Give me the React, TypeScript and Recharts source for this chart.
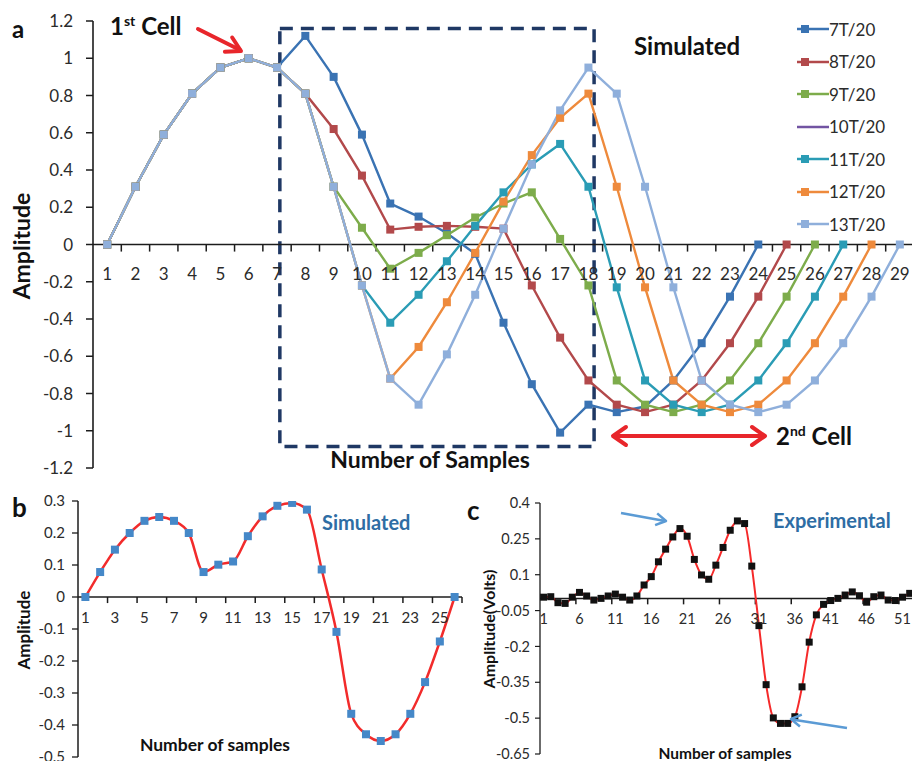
import React from 'react';
import {
  LineChart,
  Line,
  XAxis,
  YAxis,
  ReferenceLine,
  ReferenceDot,
  ReferenceArea,
  Legend
} from 'recharts';

// ---------- panel a: simulated pulses for different transit times ----------
const samplesA = Array.from({ length: 29 }, (_, i) => i + 1);

const t7 = [0, 0.31, 0.59, 0.81, 0.95, 1, 0.95, 1.12, 0.9, 0.59, 0.22, 0.15, 0.06, -0.05, -0.42, -0.75, -1.01, -0.86, -0.9, -0.87, -0.73, -0.53, -0.28, 0, null, null, null, null, null];
const t8 = [0, 0.31, 0.59, 0.81, 0.95, 1, 0.95, 0.81, 0.62, 0.37, 0.08, 0.095, 0.1, 0.095, 0.085, -0.22, -0.5, -0.73, -0.86, -0.9, -0.86, -0.73, -0.53, -0.28, 0, null, null, null, null];
const t9 = [0, 0.31, 0.59, 0.81, 0.95, 1, 0.95, 0.81, 0.31, 0.09, -0.13, -0.045, 0.05, 0.145, 0.22, 0.28, 0.03, -0.22, -0.73, -0.86, -0.9, -0.86, -0.73, -0.53, -0.28, 0, null, null, null];
const t10: (number | null)[] = []; // listed in the legend only
const t11 = [0, 0.31, 0.59, 0.81, 0.95, 1, 0.95, 0.81, 0.31, -0.22, -0.42, -0.27, -0.09, 0.1, 0.28, 0.43, 0.54, 0.31, -0.23, -0.73, -0.86, -0.9, -0.86, -0.73, -0.53, -0.28, 0, null, null];
const t12 = [0, 0.31, 0.59, 0.81, 0.95, 1, 0.95, 0.81, 0.31, -0.22, -0.72, -0.55, -0.31, -0.045, 0.23, 0.48, 0.68, 0.81, 0.31, -0.23, -0.73, -0.86, -0.9, -0.86, -0.73, -0.53, -0.28, 0, null];
const t13 = [0, 0.31, 0.59, 0.81, 0.95, 1, 0.95, 0.81, 0.31, -0.22, -0.72, -0.86, -0.59, -0.27, 0.085, 0.43, 0.72, 0.95, 0.81, 0.31, -0.23, -0.73, -0.86, -0.9, -0.86, -0.73, -0.53, -0.28, 0];

const xLabelsA = samplesA;
const yTicksA = [-1.2, -1, -0.8, -0.6, -0.4, -0.2, 0, 0.2, 0.4, 0.6, 0.8, 1, 1.2];

// ---------- panel b: simulated two-cell signal ----------
const samplesB = Array.from({ length: 26 }, (_, i) => i + 1);
const simB = [0, 0.078, 0.148, 0.2, 0.238, 0.25, 0.238, 0.2, 0.078, 0.101, 0.111, 0.19, 0.252, 0.285, 0.294, 0.273, 0.086, -0.109, -0.365, -0.429, -0.45, -0.429, -0.365, -0.266, -0.139, 0];
const xLabelsB = [1, 3, 5, 7, 9, 11, 13, 15, 17, 19, 21, 23, 25];
const yTicksB = [-0.5, -0.4, -0.3, -0.2, -0.1, 0, 0.1, 0.2, 0.3];

// ---------- panel c: measured signal ----------
const samplesC = Array.from({ length: 52 }, (_, i) => i + 1);
const expC = [
  0.006, 0.008, -0.017, -0.02, 0.006, 0.026, 0.011, -0.006, 0.001, 0.011, 0.019, 0.006, -0.006, 0.011,
  0.057, 0.092, 0.154, 0.207, 0.258, 0.293, 0.261, 0.164, 0.099, 0.081, 0.14, 0.214, 0.286, 0.325, 0.314, 0.136,
  -0.113, -0.36, -0.499, -0.522, -0.522,
  -0.494, -0.369, -0.182, -0.068, -0.024, -0.008, 0.001, 0.015, 0.028, 0.012, -0.015, 0.008, 0.015, -0.006, -0.008, 0.006, 0.022
];
const xLabelsC = [1, 6, 11, 16, 21, 26, 31, 36, 41, 46, 51];
const yTicksC = [-0.65, -0.5, -0.35, -0.2, -0.05, 0.1, 0.25, 0.4];

const seriesA = [
  { key: 't7', name: '7T/20', color: '#3A73B3', values: t7, marker: true },
  { key: 't8', name: '8T/20', color: '#B2494B', values: t8, marker: true },
  { key: 't9', name: '9T/20', color: '#7DAC4B', values: t9, marker: true },
  { key: 't10', name: '10T/20', color: '#7254A2', values: t10, marker: false },
  { key: 't11', name: '11T/20', color: '#2A9CB5', values: t11, marker: true },
  { key: 't12', name: '12T/20', color: '#EE8A3C', values: t12, marker: true },
  { key: 't13', name: '13T/20', color: '#8FAFDB', values: t13, marker: true }
];

const rowsA = samplesA.map((s, i) => {
  const row: Record<string, number | null> = { sample: s };
  seriesA.forEach((ser) => {
    row[ser.key] = ser.values[i] ?? null;
  });
  return row;
});
const rowsB = samplesB.map((s, i) => ({ sample: s, amp: simB[i] }));
const rowsC = samplesC.map((s, i) => ({ sample: s, amp: expC[i] }));

const AXIS = '#1c1c1c';
const TEXT = '#2b2b2b';
const fmt = (v: number) => String(Number(v.toFixed(2)));

const squareDot = (color: string, size: number) => (props: any) => {
  const { cx, cy, index } = props;
  if (cx == null || cy == null) return <g key={`e-${index}`} />;
  return (
    <rect key={`d-${index}`} x={cx - size / 2} y={cy - size / 2} width={size} height={size} fill={color} />
  );
};

// category axis drawn along y = 0, with ticks between categories
const zeroAxis = (
  labels: number[],
  bounds: number[],
  tickLen: number,
  labelOffset: number,
  fontSize: number,
  prefix: string
) => [
  <ReferenceLine key={`${prefix}-zero`} y={0} stroke={AXIS} strokeWidth={1.5} />,
  ...bounds.map((b) => (
    <ReferenceLine
      key={`${prefix}-tk-${b}`}
      segment={[{ x: b, y: 0 }, { x: b, y: -tickLen }]}
      stroke={AXIS}
      strokeWidth={1.5}
    />
  )),
  ...labels.map((k) => (
    <ReferenceDot
      key={`${prefix}-lb-${k}`}
      x={k}
      y={0}
      r={0}
      fill="none"
      stroke="none"
      label={{ value: String(k), position: 'bottom', offset: labelOffset, fontSize, fill: TEXT }}
    />
  ))
];

const renderLegendA = (props: any) => {
  const order = seriesA.map((s) => s.key);
  const entries = [...(props.payload || [])].sort(
    (a: any, b: any) => order.indexOf(a.dataKey) - order.indexOf(b.dataKey)
  );
  return (
    <div>
      {entries.map((e: any) => {
        const s = seriesA.find((x) => x.key === e.dataKey)!;
        return (
          <div key={s.key} style={{ height: 32.5, display: 'flex', alignItems: 'center' }}>
            <svg width={32} height={12}>
              <line x1={0} y1={6} x2={32} y2={6} stroke={s.color} strokeWidth={2.5} />
              {s.marker && <rect x={4} y={2} width={8} height={8} fill={s.color} />}
            </svg>
            <span style={{ fontSize: 17, color: TEXT, lineHeight: '17px' }}>{s.name}</span>
          </div>
        );
      })}
    </div>
  );
};

const chevron = (x1: number, y1: number, x2: number, y2: number, len: number, half: number) => {
  const d = Math.hypot(x2 - x1, y2 - y1);
  const ux = (x2 - x1) / d;
  const uy = (y2 - y1) / d;
  const bx = x2 - ux * len;
  const by = y2 - uy * len;
  return `M${bx - uy * half},${by + ux * half} L${x2},${y2} L${bx + uy * half},${by - ux * half}`;
};

const Annotations = () => (
  <svg
    width={912}
    height={761}
    style={{ position: 'absolute', left: 0, top: 0, pointerEvents: 'none', fontFamily: 'Lato, sans-serif' }}
  >
    {/* panel a */}
    <text x={12} y={38} fontSize={24} fontWeight={700} fill="#111">a</text>
    <text x={110} y={35} fontSize={24} fontWeight={700} fill="#111">
      1<tspan dy={-9} fontSize={14}>st</tspan>
      <tspan dy={9} fontSize={24}> Cell</tspan>
    </text>
    <line x1={198} y1={29} x2={240} y2={50} stroke="#E8262B" strokeWidth={4} strokeLinecap="round" />
    <path d={chevron(198, 29, 241, 51, 14, 8)} fill="none" stroke="#E8262B" strokeWidth={4} strokeLinecap="round" strokeLinejoin="round" />
    <text x={634} y={55} fontSize={24} fontWeight={700} fill="#111">Simulated</text>
    <text x={430} y={468} fontSize={23} fontWeight={700} fill="#111" textAnchor="middle">Number of Samples</text>
    <text transform="translate(30,246) rotate(-90)" fontSize={23} fontWeight={700} fill="#111" textAnchor="middle">Amplitude</text>
    <line x1={616} y1={436} x2={762} y2={436} stroke="#E8262B" strokeWidth={4} />
    <path d={chevron(700, 436, 765, 436, 13, 9)} fill="none" stroke="#E8262B" strokeWidth={4} strokeLinecap="round" strokeLinejoin="round" />
    <path d={chevron(700, 436, 613, 436, 13, 9)} fill="none" stroke="#E8262B" strokeWidth={4} strokeLinecap="round" strokeLinejoin="round" />
    <text x={776} y={445} fontSize={24} fontWeight={700} fill="#111">
      2<tspan dy={-9} fontSize={14}>nd</tspan>
      <tspan dy={9} fontSize={24}> Cell</tspan>
    </text>

    {/* panel b */}
    <text x={12} y={517} fontSize={26} fontWeight={700} fill="#111">b</text>
    <text x={322} y={530} fontSize={20} fontWeight={700} fill="#2E6DA4">Simulated</text>
    <text x={215} y={751} fontSize={17.5} fontWeight={700} fill="#111" textAnchor="middle">Number of samples</text>
    <text transform="translate(30,630) rotate(-90)" fontSize={17} fontWeight={700} fill="#111" textAnchor="middle">Amplitude</text>

    {/* panel c */}
    <text x={467} y={520} fontSize={26} fontWeight={700} fill="#111">c</text>
    <text x={773} y={528} fontSize={20} fontWeight={700} fill="#2E6DA4">Experimental</text>
    <text x={725} y={759} fontSize={15.5} fontWeight={700} fill="#111" textAnchor="middle">Number of samples</text>
    <text transform="translate(495,629) rotate(-90)" fontSize={16} fontWeight={700} fill="#111" textAnchor="middle">Amplitude(Volts)</text>
    <line x1={621} y1={513} x2={665} y2={521} stroke="#5B9BD5" strokeWidth={2.5} />
    <path d={chevron(621, 513, 666, 521, 10, 6)} fill="none" stroke="#5B9BD5" strokeWidth={2.5} strokeLinejoin="round" />
    <line x1={847} y1={728} x2={792} y2={719.5} stroke="#5B9BD5" strokeWidth={2.5} />
    <path d={chevron(847, 728, 791, 719, 10, 6)} fill="none" stroke="#5B9BD5" strokeWidth={2.5} strokeLinejoin="round" />
  </svg>
);

export default function App() {
  return (
    <div
      style={{
        position: 'absolute',
        left: 0,
        top: 0,
        width: 912,
        height: 761,
        overflow: 'hidden',
        background: '#fff',
        fontFamily: 'Lato, sans-serif'
      }}
    >
      {/* a */}
      <div style={{ position: 'absolute', left: 0, top: 0 }}>
        <LineChart width={920} height={480} data={rowsA} margin={{ top: 21, right: 6, left: 0, bottom: 12 }}>
          <XAxis type="number" dataKey="sample" domain={[0.5, 29.5]} hide />
          <YAxis
            type="number"
            domain={[-1.2, 1.2]}
            ticks={yTicksA}
            interval={0}
            allowDataOverflow
            width={93}
            tickFormatter={fmt}
            tick={{ fontSize: 17, fill: TEXT }}
            tickSize={7}
            tickMargin={13}
            axisLine={{ stroke: AXIS, strokeWidth: 1.6 }}
            tickLine={{ stroke: AXIS, strokeWidth: 1.5 }}
          />
          {zeroAxis(xLabelsA, xLabelsA.map((k) => k + 0.5), 0.038, 23, 17, 'a')}
          <ReferenceArea
            x1={7.1}
            x2={18.2}
            y1={-1.085}
            y2={1.16}
            fill="none"
            fillOpacity={0}
            stroke="#1F3864"
            strokeWidth={3.5}
            strokeDasharray="13 8"
          />
          {seriesA.map((s) => (
            <Line
              key={s.key}
              type="linear"
              dataKey={s.key}
              name={s.name}
              stroke={s.color}
              strokeWidth={2.4}
              dot={s.marker ? squareDot(s.color, 8) : false}
              activeDot={false}
              isAnimationActive={false}
            />
          ))}
          <Legend
            layout="vertical"
            align="center"
            verticalAlign="middle"
            content={renderLegendA}
            wrapperStyle={{ left: 797, top: 13, width: 115, height: 230 }}
          />
        </LineChart>
      </div>

      {/* b */}
      <div style={{ position: 'absolute', left: 0, top: 480 }}>
        <LineChart width={470} height={281} data={rowsB} margin={{ top: 21, right: 8, left: 0, bottom: 4 }}>
          <XAxis type="number" dataKey="sample" domain={[0.5, 26.5]} hide />
          <YAxis
            type="number"
            domain={[-0.5, 0.3]}
            ticks={yTicksB}
            interval={0}
            allowDataOverflow
            width={78}
            tickFormatter={fmt}
            tick={{ fontSize: 15, fill: TEXT }}
            tickSize={6}
            tickMargin={7}
            axisLine={{ stroke: AXIS, strokeWidth: 1.5 }}
            tickLine={{ stroke: AXIS, strokeWidth: 1.3 }}
          />
          {zeroAxis(xLabelsB, xLabelsB.map((k) => k + 1.5), 0.019, 15, 15, 'b')}
          <Line
            type="monotone"
            dataKey="amp"
            stroke="#F22B2B"
            strokeWidth={2.5}
            dot={squareDot('#4588C8', 8)}
            activeDot={false}
            isAnimationActive={false}
          />
        </LineChart>
      </div>

      {/* c */}
      <div style={{ position: 'absolute', left: 440, top: 480 }}>
        <LineChart width={502} height={281} data={rowsC} margin={{ top: 23, right: 0, left: 0, bottom: 7 }}>
          <XAxis type="number" dataKey="sample" domain={[0.5, 56.5]} hide />
          <YAxis
            type="number"
            domain={[-0.65, 0.4]}
            ticks={yTicksC}
            interval={0}
            allowDataOverflow
            width={100}
            tickFormatter={fmt}
            tick={{ fontSize: 14.5, fill: TEXT }}
            tickSize={5}
            tickMargin={5}
            axisLine={{ stroke: AXIS, strokeWidth: 1.3 }}
            tickLine={{ stroke: AXIS, strokeWidth: 1.2 }}
          />
          {zeroAxis(xLabelsC, xLabelsC.map((k) => k + 4.5), 0.024, 15, 14.5, 'c')}
          <Line
            type="monotone"
            dataKey="amp"
            stroke="#F52A2A"
            strokeWidth={2}
            dot={squareDot('#111111', 7)}
            activeDot={false}
            isAnimationActive={false}
          />
        </LineChart>
      </div>

      <Annotations />
    </div>
  );
}
